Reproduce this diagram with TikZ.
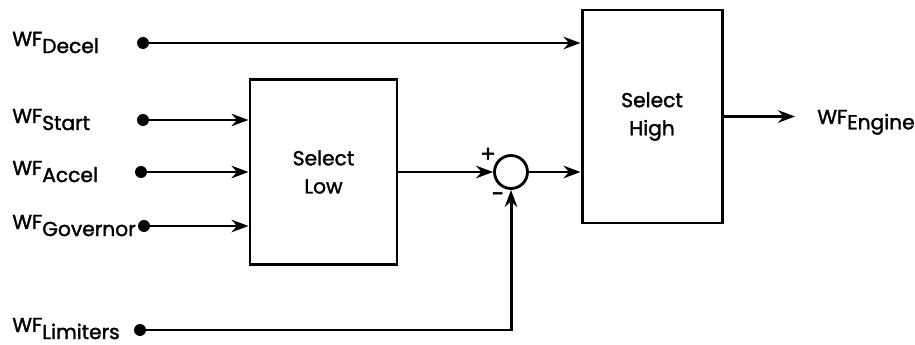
\documentclass[tikz,border=0pt]{standalone}
\usepackage{fontspec}
\setmainfont{Poppins}
\newfontfamily\diagfont{Poppins}[FakeBold=1.6]
\usetikzlibrary{arrows.meta,positioning,calc}
\newcommand{\wf}[1]{WF\raisebox{-4pt}{#1}}
\tikzset{
  blk/.style={draw,line width=1.7pt,align=center,
              font=\diagfont\fontsize{11.5}{16}\selectfont},
  sumnode/.style={circle,draw,line width=1.6pt,minimum size=0.66cm,inner sep=0pt},
  dot/.style={circle,fill,minimum size=0.24cm,inner sep=0pt},
  lbl/.style={anchor=base west,inner sep=0pt,font=\diagfont\fontsize{11.5}{14}\selectfont},
  sgn/.style={inner sep=0pt,font=\diagfont\fontsize{13}{15}\selectfont},
  sig/.style={-{Stealth[length=3.4mm,width=2.5mm]},line width=1.7pt}
}
\begin{document}
\begin{tikzpicture}
  \useasboundingbox (0,0) rectangle (18.3,6.9);

  % blocks
  \node[blk,minimum width=2.94cm,minimum height=3.70cm] (lowbox) at (6.47,3.46)
    {Select\\Low};
  \node[blk,minimum width=2.80cm,minimum height=4.26cm] (highbox) at (13.04,4.57)
    {Select\\High};
  \node[sumnode] (sum) at (10.22,3.46) {};
  \node[sgn] (plus) at (9.76,3.80) {+};
  \node[sgn] (minus) at (9.96,2.96) {-};

  % input points
  \node[dot] (decel) at (2.86,6.04) {};
  \node[dot] (start) at (2.86,4.50) {};
  \node[dot] (accel) at (2.82,3.46) {};
  \node[dot] (governor) at (2.88,2.38) {};
  \node[dot] (limiters) at (2.80,0.30) {};
  \coordinate (engout) at (15.90,4.57);

  % labels
  \node[lbl] (decellbl) at (0.24,5.98) {\wf{Decel}};
  \node[lbl] (startlbl) at (0.24,4.44) {\wf{Start}};
  \node[lbl] (accellbl) at (0.24,3.40) {\wf{Accel}};
  \node[lbl] (governorlbl) at (0.24,2.32) {\wf{Governor}};
  \node[lbl] (limiterslbl) at (0.24,0.26) {\wf{Limiters}};
  \node[lbl] (enginelbl) at (16.34,4.42) {WF\raisebox{-3pt}{Engine}};

  % signals
  \draw[sig] (decel) -- (decel -| highbox.west);
  \draw[sig] (start) -- (start -| lowbox.west);
  \draw[sig] (accel) -- (accel -| lowbox.west);
  \draw[sig] (governor) -- (governor -| lowbox.west);
  \draw[sig] (lowbox) -- (sum);
  \draw[sig] (limiters) -| (sum.south);
  \draw[sig] (sum) -- (sum -| highbox.west);
  \draw[sig] (highbox) -- (engout);
\end{tikzpicture}
\end{document}
